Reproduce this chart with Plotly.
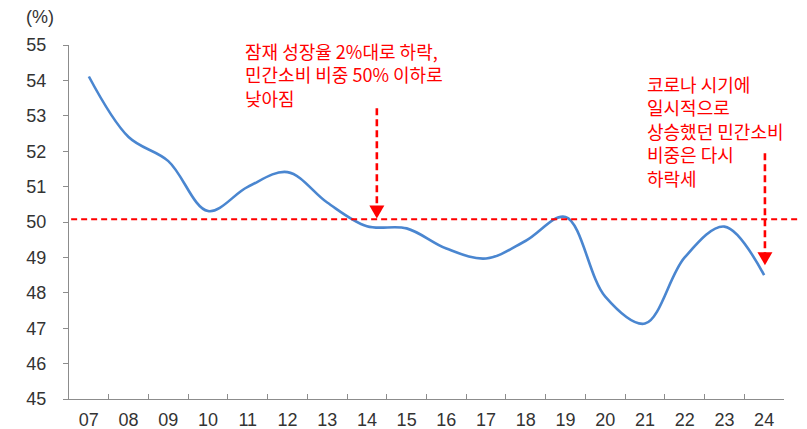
import plotly.graph_objects as go

years = ['07','08','09','10','11','12','13','14','15','16','17','18','19','20','21','22','23','24']
share = [54.11, 52.40, 51.72, 50.31, 50.99, 51.41, 50.55, 49.88, 49.82, 49.25, 48.97, 49.47, 50.14, 47.89, 47.13, 49.00, 49.87, 48.50]
threshold = 50.08
note1_lines = ['잠재 성장율 2%대로 하락,', '민간소비 비중 50% 이하로', '낮아짐']
note2_lines = ['코로나 시기에', '일시적으로', '상승했던 민간소비', '비중은 다시', '하락세']

RED = '#ff0000'
BLUE = '#4a86d0'
GRAY = '#8c8c8c'
TXT = '#333333'
NUM_FONT = 'Liberation Sans, Arial, sans-serif'
KR_FONT = 'Noto Sans CJK KR, sans-serif'

# the page body adds an 8px offset, so the figure is drawn 8px smaller
OFF = 8
W, H = 807 - OFF, 429 - OFF
L, R, T, B = 69 - OFF, 23, 44.5 - OFF, 30
pw, ph = W - L - R, H - T - B

fig = go.Figure()
fig.add_trace(go.Scatter(
    x=years, y=share, mode='lines',
    line=dict(color=BLUE, width=2.6, shape='spline', smoothing=1.0),
    hoverinfo='skip', showlegend=False))

# horizontal dashed threshold line
fig.add_shape(type='line', xref='paper', yref='y', x0=0.003, x1=(800 - 69) / pw, y0=threshold, y1=threshold,
              line=dict(color=RED, width=2, dash='6px,4px'))

# arrows (dashed stem + triangle head)
arrows = [(7.25, 53.21, 50.10), (17.02, 51.94, 48.78)]
for ax, ytop, ytip in arrows:
    fig.add_shape(type='line', xref='x', yref='y', x0=ax, x1=ax, y0=ytop, y1=ytip + 0.3,
                  line=dict(color=RED, width=2.6, dash='7px,4px'))
    fig.add_shape(type='path', xref='x', yref='y', xsizemode='pixel', ysizemode='pixel',
                  xanchor=ax, yanchor=ytip, path='M -7.5 13 L 7.5 13 L 0 0 Z',
                  fillcolor=RED, line=dict(color=RED, width=0))

ann = [
    dict(x=3.89, y=54.80, xref='x', yref='y', text='<br>'.join(note1_lines), showarrow=False,
         align='left', xanchor='left', yanchor='top', yshift=16,
         font=dict(family=KR_FONT, size=18, color=RED)),
    dict(x=14.0, y=53.76, xref='x', yref='y', text='<br>'.join(note2_lines), showarrow=False,
         align='left', xanchor='left', yanchor='top', yshift=20,
         font=dict(family=KR_FONT, size=18, color=RED)),
    dict(x=(40 - 69) / pw, y=(399 - 16) / ph, xref='paper', yref='paper', text='(%)', showarrow=False,
         xanchor='center', yanchor='middle', font=dict(family=NUM_FONT, size=18, color=TXT)),
]

fig.update_layout(
    width=W, height=H,
    margin=dict(l=L, r=R, t=T, b=B, autoexpand=False),
    plot_bgcolor='white', paper_bgcolor='white',
    font=dict(family=NUM_FONT, size=18, color=TXT),
    annotations=ann,
    xaxis=dict(type='category', showgrid=False, zeroline=False, showline=True, linecolor=GRAY, linewidth=1,
               ticks='inside', tickson='boundaries', ticklen=5, tickcolor=GRAY, tickwidth=1,
               ticklabelstandoff=4, automargin=False,
               range=[-0.5, 17.5], tickfont=dict(family=NUM_FONT, size=18, color=TXT), fixedrange=True),
    yaxis=dict(range=[45, 55], dtick=1, showgrid=False, zeroline=False, showline=True, linecolor=GRAY, linewidth=1,
               ticks='outside', ticklen=5, tickcolor=GRAY, tickwidth=1, ticklabelstandoff=13, automargin=False,
               tickfont=dict(family=NUM_FONT, size=18, color=TXT), fixedrange=True),
)

fig.write_html('out.html')
